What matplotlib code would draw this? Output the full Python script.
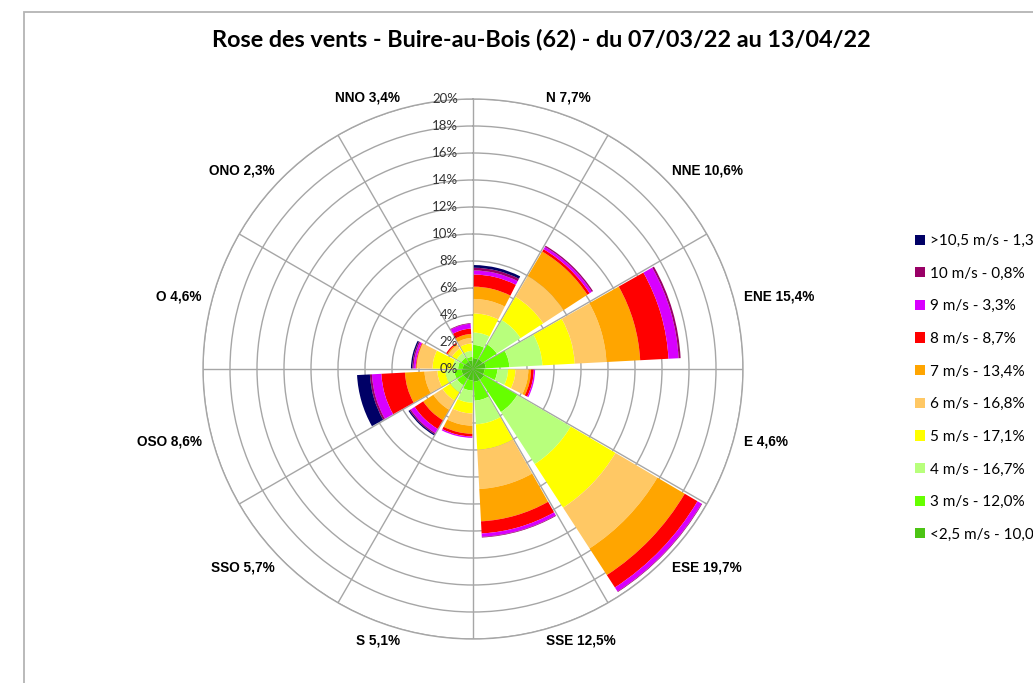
import numpy as np
import matplotlib
matplotlib.use("Agg")
import matplotlib.pyplot as plt
from matplotlib.patches import Patch, Rectangle
from matplotlib.transforms import offset_copy


# Wind directions (French), clockwise from north, one every 30 degrees
directions = ["N", "NNE", "ENE", "E", "ESE", "SSE", "S", "SSO", "OSO", "O", "ONO", "NNO"]
totals = [7.7, 10.6, 15.4, 4.6, 19.7, 12.5, 5.1, 5.7, 8.6, 4.6, 2.3, 3.4]

# Share of each speed class per direction (%)
v_lt25 = [0.80, 0.85, 0.95, 0.85, 0.95, 0.95, 0.85, 0.85, 0.85, 0.75, 0.65, 0.65]
v_3    = [0.98, 1.25, 1.75, 0.95, 2.85, 1.40, 0.75, 0.55, 0.55, 0.35, 0.35, 0.25]
v_4    = [0.92, 2.10, 2.45, 0.80, 4.60, 1.75, 0.90, 0.60, 0.65, 0.40, 0.40, 0.45]
v_5    = [1.42, 2.00, 2.40, 0.55, 3.85, 1.90, 0.80, 0.70, 0.60, 1.50, 0.40, 0.55]
v_6    = [1.07, 1.80, 2.35, 0.95, 3.60, 2.90, 0.90, 0.80, 0.95, 1.15, 0.30, 0.40]
v_7    = [0.91, 2.10, 2.50, 0.20, 2.35, 2.40, 0.60, 0.90, 1.45, 0.05, 0.10, 0.30]
v_8    = [0.90, 0.20, 2.10, 0.20, 1.10, 0.90, 0.20, 0.75, 1.75, 0.05, 0.10, 0.40]
v_9    = [0.30, 0.20, 0.75, 0.10, 0.35, 0.25, 0.10, 0.35, 0.70, 0.15, 0.00, 0.35]
v_10   = [0.20, 0.10, 0.15, 0.00, 0.05, 0.05, 0.00, 0.10, 0.15, 0.10, 0.00, 0.05]
v_gt105 = [0.20, 0.00, 0.00, 0.00, 0.00, 0.00, 0.00, 0.10, 0.95, 0.10, 0.00, 0.00]

classes = ["<2,5 m/s - 10,0%", "3 m/s - 12,0%", "4 m/s - 16,7%", "5 m/s - 17,1%",
           "6 m/s - 16,8%", "7 m/s - 13,4%", "8 m/s - 8,7%", "9 m/s - 3,3%",
           "10 m/s - 0,8%", ">10,5 m/s - 1,3%"]
colors = ["#4cc414", "#66ff00", "#b8ff7c", "#ffff00", "#ffc864",
          "#ffa500", "#ff0000", "#d800ff", "#990066", "#000066"]

r_ticks = list(range(0, 21, 2))

series = [v_lt25, v_3, v_4, v_5, v_6, v_7, v_8, v_9, v_10, v_gt105]

fig = plt.figure(figsize=(10.33, 6.83), dpi=100)
W, H = 1033, 683

# frame of the original chart area
fig.patches.append(Rectangle((24 / W, -0.1), 1.2, 1.1 - 12 / H,
                             transform=fig.transFigure, fill=False,
                             edgecolor="#b4b4b4", lw=1.3, zorder=0))

cx, cy, R = 473, 369, 270
ax = fig.add_axes([(cx - R) / W, (H - cy - R) / H, 2 * R / W, 2 * R / H], projection="polar")
ax.set_theta_zero_location("N")
ax.set_theta_direction(-1)
ax.set_ylim(0, 20)
ax.set_yticks(r_ticks)
ax.set_yticklabels([])
ax.set_xticks(np.deg2rad(np.arange(0, 360, 30)))
ax.set_xticklabels([])
ax.grid(True, color="#a6a6a6", lw=1.0)
ax.spines["polar"].set_color("#a6a6a6")
ax.spines["polar"].set_linewidth(1.0)
ax.set_axisbelow(True)

theta = np.deg2rad(np.arange(12) * 30 + 0.5)
width = np.deg2rad(26.5)
bottom = np.zeros(12)
for vals, col in zip(series, colors):
    vals = np.array(vals)
    ax.bar(theta, vals, width=width, bottom=bottom, align="edge",
           color=col, edgecolor="none", linewidth=0, zorder=3)
    bottom = bottom + vals

# ring labels along the north axis
lab_tr = offset_copy(ax.transData, fig=fig, x=-15, y=0, units="dots")
for r in r_ticks:
    ax.text(0, r, f"{r}%", transform=lab_tr, ha="right", va="center",
            fontsize=9.5, family=["Lato", "DejaVu Sans"], color="#333333", zorder=5)

# direction labels
for i, (d, t) in enumerate(zip(directions, totals)):
    ang = i * 30 + 15
    ha = "left" if ang < 180 else "right"
    ax.text(np.deg2rad(ang), 20.8, f"{d} {t:.1f}%".replace(".", ","),
            ha=ha, va="center", fontsize=9.8, fontweight="bold",
            family=["Liberation Sans", "DejaVu Sans"], clip_on=False)

fig.text(541 / W, 1 - 40 / H, "Rose des vents - Buire-au-Bois (62) - du 07/03/22 au 13/04/22",
         ha="center", va="center", fontsize=16.8, fontweight="bold",
         family=["Lato", "DejaVu Sans"])

handles = [Patch(facecolor=c, edgecolor="none", label=l)
           for c, l in zip(colors[::-1], classes[::-1])]
fig.legend(handles=handles, loc="upper left", bbox_to_anchor=(915 / W, 1 - 234 / H),
           frameon=False, borderpad=0, borderaxespad=0,
           prop={"family": ["Lato", "DejaVu Sans"], "size": 11},
           handlelength=0.65, handleheight=0.65, handletextpad=0.35, labelspacing=1.22)

fig.savefig("out.png", dpi=100)
